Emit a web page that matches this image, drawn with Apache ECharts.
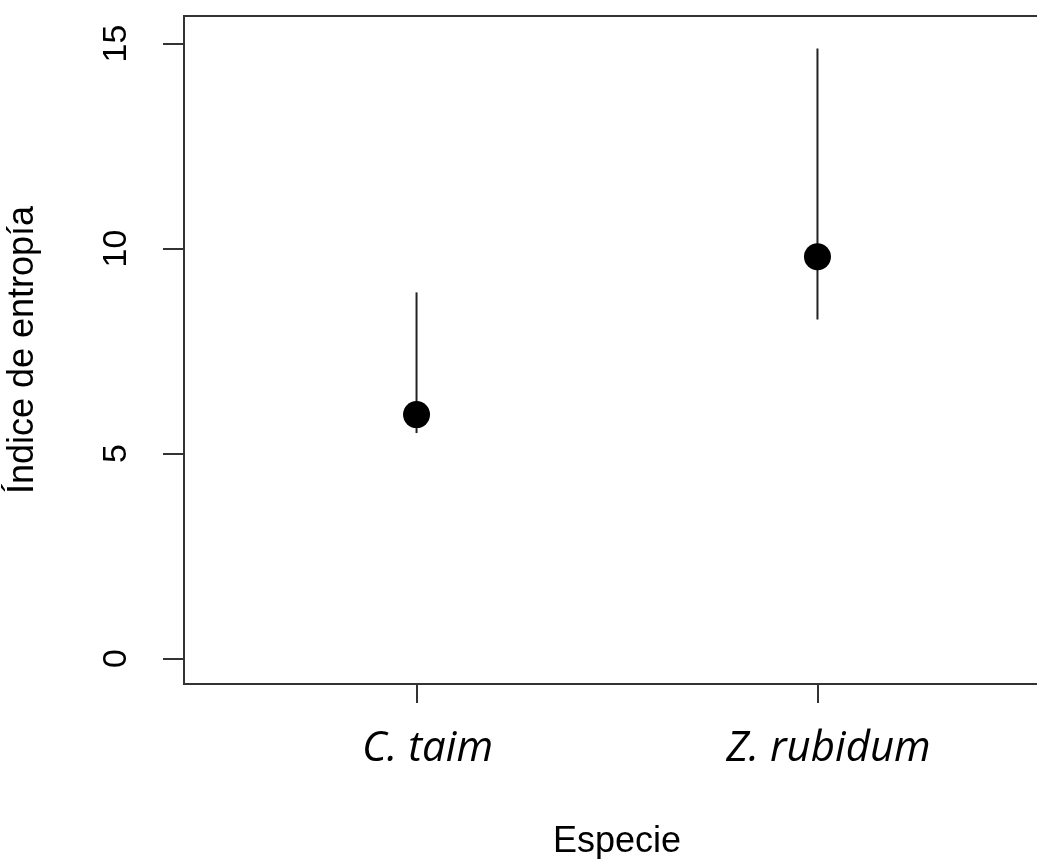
<!DOCTYPE html>
<html>
<head>
<meta charset="utf-8">
<script src="https://cdn.jsdelivr.net/npm/echarts@6/dist/echarts.min.js"></script>
<style>
  html, body { margin: 0; padding: 0; background: #fff; }
  #chart { width: 1037px; height: 859px; }
</style>
</head>
<body>
<div id="chart"></div>
<script>
// índice de entropía por especie — media con intervalo
const species = ['C. taim', 'Z. rubidum']
const means = [5.95, 9.8]
const lower = [5.5, 8.27]
const upper = [8.93, 14.88]
const yTicks = [0, 5, 10, 15]
const xPos = [1, 2]

const chart = echarts.init(document.getElementById('chart'))

const axisColor = '#333'

chart.setOption({
  animation: false,
  grid: {
    left: 184, top: 16, width: 866, height: 668,
    outerBoundsMode: 'none', containLabel: false,
    show: true, borderColor: axisColor, borderWidth: 2,
  },
  xAxis: {
    type: 'value',
    min: 0.42, max: 2.58,
    name: 'Especie',
    nameLocation: 'middle',
    nameGap: 140,
    nameTextStyle: { fontFamily: 'Liberation Sans', fontSize: 36, color: '#000' },
    axisLine: { show: true, onZero: false, lineStyle: { color: axisColor, width: 2 } },
    axisTick: { show: true, customValues: xPos, length: 19, lineStyle: { color: axisColor, width: 2 } },
    axisLabel: {
      customValues: xPos,
      formatter: v => species[xPos.indexOf(v)] || '',
      fontFamily: 'Open Sans', fontStyle: 'italic', fontSize: 42, color: '#000',
      margin: 44, padding: [0, 0, 0, 22],
    },
    splitLine: { show: false },
  },
  yAxis: {
    type: 'value',
    min: -0.62, max: 15.67,
    name: 'Índice de entropía',
    nameLocation: 'middle',
    nameGap: 143,
    nameRotate: 90,
    nameTextStyle: { fontFamily: 'Liberation Sans', fontSize: 36, color: '#000' },
    axisLine: { show: true, lineStyle: { color: axisColor, width: 2 } },
    axisTick: { show: true, customValues: yTicks, length: 21, lineStyle: { color: axisColor, width: 2 } },
    axisLabel: {
      customValues: yTicks,
      rotate: 90,
      fontFamily: 'Liberation Sans', fontSize: 34, color: '#000',
      margin: 50,
    },
    splitLine: { show: false },
  },
  series: [
    {
      type: 'custom',
      data: xPos.map((x, i) => [x, lower[i], upper[i]]),
      renderItem: (params, api) => {
        const p1 = api.coord([api.value(0), api.value(1)])
        const p2 = api.coord([api.value(0), api.value(2)])
        return {
          type: 'line',
          shape: { x1: p1[0], y1: p1[1], x2: p2[0], y2: p2[1] },
          style: { stroke: '#222', lineWidth: 2 },
        }
      },
      z: 1,
    },
    {
      type: 'scatter',
      data: xPos.map((x, i) => [x, means[i]]),
      symbol: 'circle',
      symbolSize: 27,
      itemStyle: { color: '#000', opacity: 1 },
      z: 2,
    },
  ],
})
</script>
</body>
</html>
